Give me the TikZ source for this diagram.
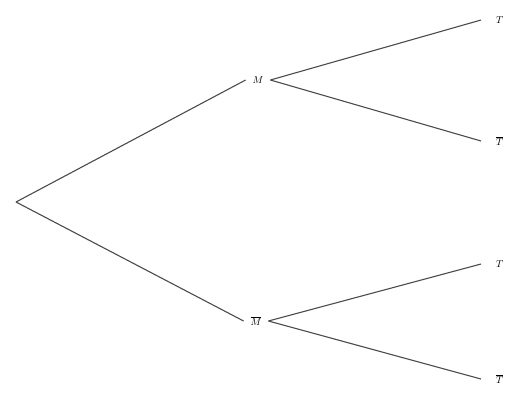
\documentclass[tikz,border=0pt]{standalone}
\begin{document}
\begin{tikzpicture}[x=1pt,y=-1pt,
  lbl/.style={inner sep=1pt,outer sep=6pt,font=\fontsize{10}{11}\selectfont},
  rlbl/.style={lbl,anchor=west,outer sep=0pt},
  br/.style={draw=black!70,line width=1.1pt}]
\useasboundingbox[fill=white] (0,0) rectangle (505,392);
\coordinate (r) at (16,202);
\node[lbl] (m) at (258,80) {$M$};
\node[lbl] (mb) at (256,321) {$\overline{M}$};
\node[rlbl] (t1) at (495,20) {$T$};
\node[rlbl] (t2) at (495,141) {$\overline{T}$};
\node[rlbl] (t3) at (495,264) {$T$};
\node[rlbl] (t4) at (495,379) {$\overline{T}$};
\draw[br] (r) -- (m.west);
\draw[br] (r) -- (mb.west);
\draw[br] (m.east) -- ([xshift=-14pt]t1.west);
\draw[br] (m.east) -- ([xshift=-14pt]t2.west);
\draw[br] (mb.east) -- ([xshift=-14pt]t3.west);
\draw[br] (mb.east) -- ([xshift=-14pt]t4.west);
\end{tikzpicture}
\end{document}
